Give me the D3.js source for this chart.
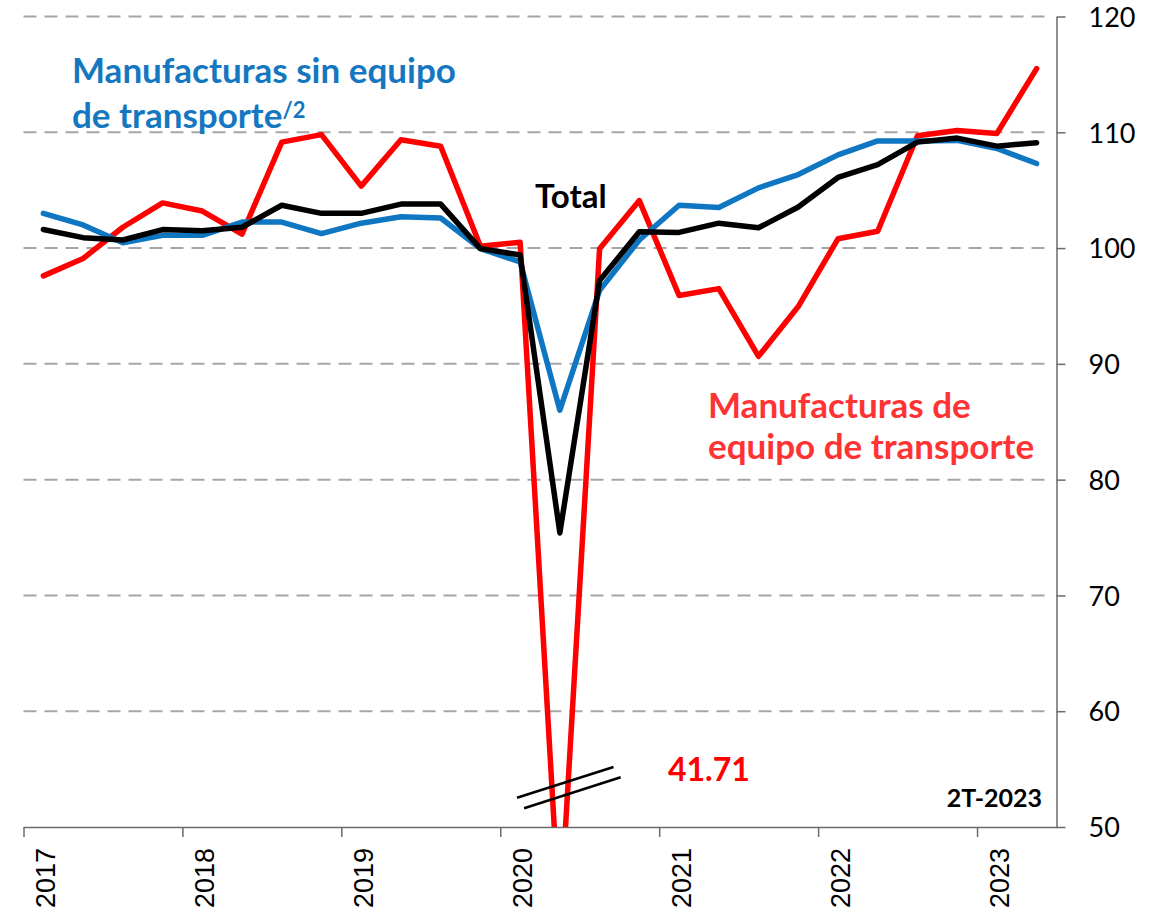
<!DOCTYPE html>
<html>
<head>
<meta charset="utf-8">
<script src="https://cdn.jsdelivr.net/npm/d3@7"></script>
<style>
  html, body { margin: 0; padding: 0; background: #fff; }
  svg { display: block; }
</style>
</head>
<body>
<div id="chart"></div>
<script>
// quarters 2017T1 .. 2023T2
const quarters = ["2017T1","2017T2","2017T3","2017T4","2018T1","2018T2","2018T3","2018T4",
  "2019T1","2019T2","2019T3","2019T4","2020T1","2020T2","2020T3","2020T4",
  "2021T1","2021T2","2021T3","2021T4","2022T1","2022T2","2022T3","2022T4",
  "2023T1","2023T2"];
const years = ["2017","2018","2019","2020","2021","2022","2023"];
const yTicks = [50, 60, 70, 80, 90, 100, 110, 120];

const total = [101.6,100.9,100.7,101.6,101.5,101.8,103.7,103.0,103.0,103.8,103.8,99.95,
  99.4,75.4,97.2,101.4,101.35,102.15,101.75,103.55,106.1,107.2,109.15,109.5,108.8,109.1];
const sinTransporte = [103.0,102.0,100.45,101.1,101.1,102.25,102.25,101.25,102.15,102.7,102.6,99.95,
  98.8,86.0,96.35,100.7,103.7,103.5,105.2,106.35,108.05,109.25,109.25,109.3,108.6,107.3];
const equipoTransporte = [97.6,99.1,101.8,103.9,103.2,101.2,109.15,109.8,105.35,109.35,108.8,100.15,
  100.5,41.71,99.95,104.1,95.9,96.5,90.65,94.95,100.8,101.45,109.7,110.15,109.9,115.5];

const W = 1166, H = 913;
const svg = d3.select("#chart").append("svg").attr("width", W).attr("height", H);

// x: quarter index (boundaries), y: index value
const x = d3.scaleLinear().domain([0, quarters.length]).range([23.5, 1056.5]);
const y = d3.scaleLinear().domain([50, 120]).range([827, 16.5]);
const xq = i => x(i + 0.5);

// gridlines
svg.append("g").selectAll("line")
  .data(yTicks.filter(d => d > 50))
  .join("line")
    .attr("x1", x(0)).attr("x2", x(quarters.length) - 4)
    .attr("y1", d => y(d)).attr("y2", d => y(d))
    .attr("stroke", "#a6a6a6").attr("stroke-width", 2)
    .attr("stroke-dasharray", "13,8");

// right axis
const yAxis = svg.append("g")
  .attr("transform", "translate(" + x(quarters.length) + ",0)")
  .call(d3.axisRight(y).tickValues(yTicks).tickSize(9).tickPadding(23).tickSizeOuter(0));
yAxis.select(".domain").attr("stroke", "#6b6b6b").attr("stroke-width", 1.5);
yAxis.selectAll(".tick line").attr("stroke", "#6b6b6b").attr("stroke-width", 1.5);
yAxis.selectAll(".tick text")
  .attr("font-family", "Lato, 'Open Sans', sans-serif")
  .attr("font-size", 27).attr("fill", "#000").attr("dy", "0.36em");

// bottom axis with year ticks
const yearIdx = years.map((_, k) => k * 4);
const xAxis = svg.append("g")
  .attr("transform", "translate(0," + y(50) + ")")
  .call(d3.axisBottom(x).tickValues(yearIdx).tickSize(10).tickSizeOuter(0).tickFormat((d, k) => years[k]));
xAxis.select(".domain").attr("stroke", "#6b6b6b").attr("stroke-width", 1.5);
xAxis.selectAll(".tick line").attr("stroke", "#6b6b6b").attr("stroke-width", 1.5);
xAxis.selectAll(".tick text")
  .attr("font-family", "'Liberation Sans', Arial, sans-serif")
  .attr("font-size", 27).attr("fill", "#000")
  .attr("text-anchor", "end")
  .attr("dy", null).attr("y", null)
  .attr("transform", "translate(31,21) rotate(-90)");

// clip to plot area so the 2020T2 drop is cut at 50
svg.append("clipPath").attr("id", "plotClip")
  .append("rect").attr("x", x(0)).attr("y", 0)
  .attr("width", x(quarters.length) - x(0)).attr("height", y(50));

const line = d3.line().x((d, i) => xq(i)).y(d => y(d));
const series = [
  { values: equipoTransporte, color: "#ff0000" },
  { values: sinTransporte, color: "#0f76c2" },
  { values: total, color: "#000000" }
];
const lines = svg.append("g").attr("clip-path", "url(#plotClip)");
series.forEach(s => {
  lines.append("path")
    .datum(s.values)
    .attr("fill", "none")
    .attr("stroke", s.color)
    .attr("stroke-width", 5.5)
    .attr("stroke-linejoin", "round")
    .attr("stroke-linecap", "round")
    .attr("d", line);
});

// break mark on the axis scale
const breakMarks = [
  { i0: 12.42, v0: 52.53, i1: 14.85, v1: 55.18 },
  { i0: 12.60, v0: 51.62, i1: 15.03, v1: 54.30 }
];
svg.append("g").selectAll("line")
  .data(breakMarks)
  .join("line")
    .attr("x1", d => x(d.i0)).attr("y1", d => y(d.v0))
    .attr("x2", d => x(d.i1)).attr("y2", d => y(d.v1))
    .attr("stroke", "#000").attr("stroke-width", 2.5);

// labels
const calibri = "Lato, 'Open Sans', sans-serif";
svg.append("text")
  .attr("x", x(16.22)).attr("y", y(53.93))
  .attr("font-family", calibri).attr("font-weight", 700).attr("font-size", 32)
  .attr("fill", "#ff0000")
  .text(d3.format(".2f")(d3.min(equipoTransporte)));

svg.append("text")
  .attr("x", 1042).attr("y", 807)
  .attr("text-anchor", "end")
  .attr("font-family", calibri).attr("font-weight", 700).attr("font-size", 25)
  .attr("fill", "#000").text("2T-2023");

svg.append("text")
  .attr("x", 535).attr("y", 208)
  .attr("font-family", calibri).attr("font-weight", 700).attr("font-size", 33)
  .attr("fill", "#000").text("Total");

const blueLbl = svg.append("text")
  .attr("font-family", calibri).attr("font-weight", 700).attr("font-size", 35)
  .attr("fill", "#1477c0");
blueLbl.append("tspan").attr("x", 72).attr("y", 83).text("Manufacturas sin equipo");
blueLbl.append("tspan").attr("x", 72).attr("y", 128).text("de transporte");
blueLbl.append("tspan").attr("dy", -10).attr("font-size", 22).text("/2");

const redLbl = svg.append("text")
  .attr("font-family", calibri).attr("font-weight", 700).attr("font-size", 35)
  .attr("fill", "#ff3333");
redLbl.append("tspan").attr("x", 708).attr("y", 418).text("Manufacturas de");
redLbl.append("tspan").attr("x", 708).attr("y", 459).text("equipo de transporte");
</script>
</body>
</html>
